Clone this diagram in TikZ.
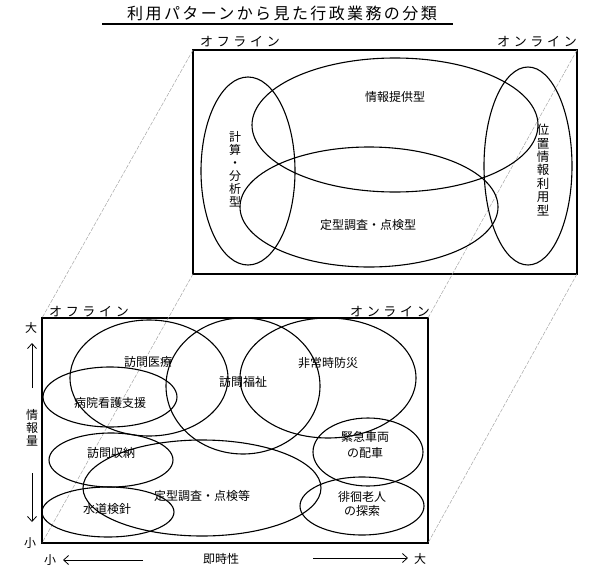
\documentclass[tikz,border=0pt]{standalone}
\usepackage{fontspec}
\setmainfont{Noto Sans CJK JP}
\usetikzlibrary{shapes.geometric,arrows.meta}
\begin{document}
\begin{tikzpicture}[x=1pt,y=-1pt,
  ell/.style={ellipse,draw,line width=1.1pt,inner sep=0pt,outer sep=0pt},
  box/.style={rectangle,draw,line width=1.1pt,inner sep=0pt,outer sep=0pt},
  guide/.style={draw=gray!70,line width=0.5pt,dash pattern=on 4pt off 1.5pt},
  lbl/.style={font=\fontsize{12}{13}\selectfont,inner sep=0pt,align=center},
  vlbl/.style={font=\fontsize{12}{13}\selectfont,inner sep=0pt,align=center},
  hdr/.style={font=\fontsize{13}{13}\selectfont\addfontfeature{LetterSpace=28},inner sep=0pt},
  axarrow/.style={line width=0.8pt,-{Straight Barb[length=5pt,width=9pt]}}]
\useasboundingbox (0,0) rectangle (600,581);

% title
\node[font=\fontsize{16}{16}\selectfont\addfontfeature{LetterSpace=15},inner sep=0pt] (title) at (282,13) {利用パターンから見た行政業務の分類};
\coordinate (ulA) at (102,24);
\coordinate (ulB) at (453,24);
\draw[line width=1.4pt] (ulA) -- (ulB);

% boxes
\node[box,minimum width=384pt,minimum height=224pt] (topbox) at (385,162) {};
\node[box,minimum width=386pt,minimum height=225pt] (botbox) at (235,430.5) {};

% guide lines
\draw[guide] (topbox.north west) -- (botbox.north west);
\draw[guide] (topbox.north east) -- (botbox.north east);
\draw[guide] (topbox.south west) -- (botbox.south west);
\draw[guide] (topbox.south east) -- (botbox.south east);

% headers
\node[hdr] (offT) at (240,42) {オフライン};
\node[hdr] (onT) at (537,42) {オンライン};
\node[hdr] (offB) at (89,312) {オフライン};
\node[hdr] (onB) at (390,312) {オンライン};

% top ellipses
\node[ell,minimum width=94pt,minimum height=188pt] (calc) at (248,171) {};
\node[ell,minimum width=286pt,minimum height=134pt] (info) at (395,125) {};
\node[ell,minimum width=258pt,minimum height=120pt] (teikeiT) at (369,207) {};
\node[ell,minimum width=88pt,minimum height=198pt] (ichi) at (528,166) {};

\node[lbl] (tinfo) at (395,97) {情報提供型};
\node[lbl] (tteikeiT) at (368,225) {定型調査・点検型};
\node[vlbl] (tcalc) at (235,169) {計\\算\\・\\分\\析\\型};
\node[vlbl,font=\fontsize{12.5}{13.4}\selectfont] (tichi) at (543,170) {位\\置\\情\\報\\利\\用\\型};

% bottom ellipses
\node[ell,minimum width=158pt,minimum height=116pt] (iryo) at (149,378) {};
\node[ell,minimum width=154pt,minimum height=136pt] (fukushi) at (243,386) {};
\node[ell,minimum width=176pt,minimum height=120pt] (bousai) at (328,378) {};
\node[ell,minimum width=134pt,minimum height=60pt] (byoin) at (110,397) {};
\node[ell,minimum width=124pt,minimum height=54pt] (shuno) at (111,460) {};
\node[ell,minimum width=132pt,minimum height=50pt] (suido) at (108,512) {};
\node[ell,minimum width=238pt,minimum height=96pt] (teikeiB) at (202,488) {};
\node[ell,minimum width=110pt,minimum height=68pt] (kinkyu) at (368,452) {};
\node[ell,minimum width=124pt,minimum height=58pt] (haikai) at (362,506) {};

\node[lbl] (tiryo) at (148,362) {訪問医療};
\node[lbl] (tfukushi) at (243,382) {訪問福祉};
\node[lbl] (tbousai) at (328,363) {非常時防災};
\node[lbl] (tbyoin) at (110,403) {病院看護支援};
\node[lbl] (tshuno) at (111,453) {訪問収納};
\node[lbl] (tsuido) at (107,509) {水道検針};
\node[lbl] (tteikeiB) at (202,496) {定型調査・点検等};
\node[lbl,font=\fontsize{12}{16}\selectfont] (tkinkyu) at (365,445) {緊急車両\\の配車};
\node[lbl,font=\fontsize{12}{14.5}\selectfont] (thaikai) at (362,504) {徘徊老人\\の探索};

% axes
\node[lbl] (vbig) at (31,328) {大};
\node[vlbl] (vinfo) at (32,428) {情\\報\\量};
\node[lbl] (vsmall) at (30,543) {小};
\node[lbl] (hsmall) at (50,560) {小};
\node[lbl] (htime) at (221,559) {即時性};
\node[lbl] (hbig) at (420,559) {大};

\coordinate (upS) at (32,388);
\coordinate (upE) at (32,343);
\coordinate (dnS) at (32,473);
\coordinate (dnE) at (32,522);
\coordinate (lfS) at (143,560);
\coordinate (lfE) at (63,560);
\coordinate (rtS) at (313,558);
\coordinate (rtE) at (408,558);
\draw[axarrow] (upS) -- (upE);
\draw[axarrow] (dnS) -- (dnE);
\draw[axarrow] (lfS) -- (lfE);
\draw[axarrow] (rtS) -- (rtE);
\end{tikzpicture}
\end{document}
